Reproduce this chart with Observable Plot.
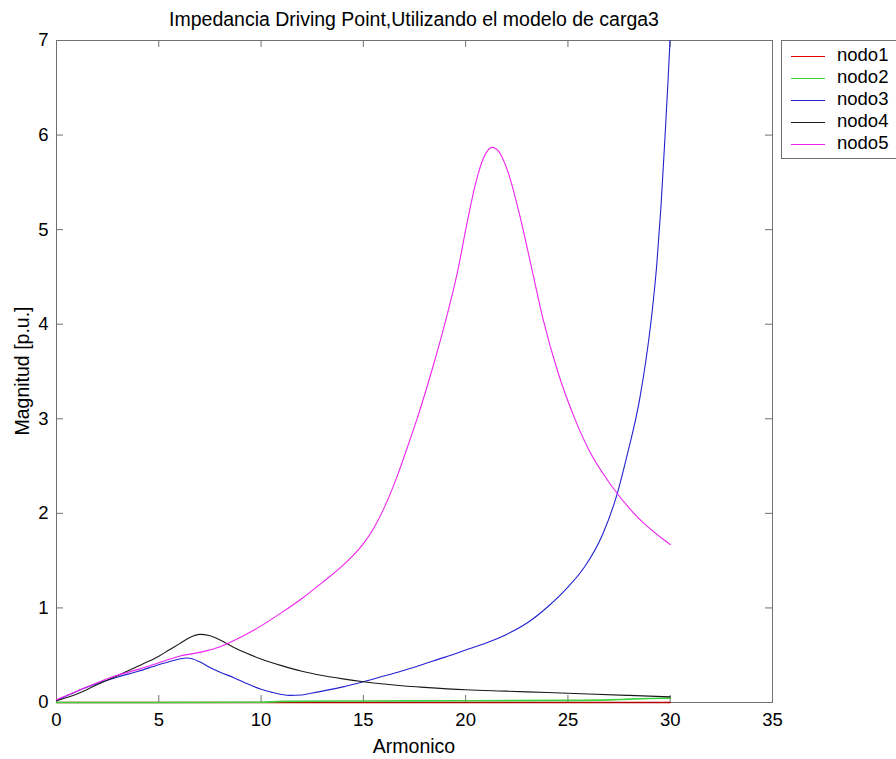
<!DOCTYPE html>
<html>
<head>
<meta charset="utf-8">
<script src="https://cdn.jsdelivr.net/npm/d3@7"></script>
<script src="https://cdn.jsdelivr.net/npm/@observablehq/plot@0.6"></script>
<style>
  body { margin: 0; background: #fff; }
  #wrap { position: relative; width: 896px; height: 759px; overflow: hidden; background: #fff;
          font-family: Arial, "Liberation Sans", sans-serif; color: #000; }
  #chart { position: absolute; left: 0; top: 0; }
  .lbl { position: absolute; font-size: 19.5px; line-height: 22px; white-space: nowrap; text-align: center; }
  #title { left: 56px; width: 716px; top: 8px; }
  #xlabel { left: 56px; width: 716px; top: 735px; }
  #ylabel { left: -128px; width: 300px; top: 360px; transform: rotate(-90deg); transform-origin: 150px 11px; }
  #legend { position: absolute; left: 781px; top: 40px; width: 140px; height: 114px;
            border: 1px solid #707070; background: #fff; padding-top: 3px; box-sizing: content-box; }
  .row { height: 22px; line-height: 22px; font-size: 18.5px; white-space: nowrap; }
  .sw { display: inline-block; width: 34px; height: 0; border-top: 1px solid; vertical-align: middle; margin-left: 9px; margin-right: 12px; }
</style>
</head>
<body>
<div id="wrap">
  <div id="chart"></div>
  <div id="title" class="lbl"></div>
  <div id="xlabel" class="lbl"></div>
  <div id="ylabel" class="lbl"></div>
  <div id="legend"></div>
</div>
<script>
// ---- texts ----
const titleText = "Impedancia Driving Point,Utilizando el modelo de carga3";
const xLabelText = "Armonico";
const yLabelText = "Magnitud [p.u.]";

// ---- ticks ----
const xTicks = [0, 5, 10, 15, 20, 25, 30, 35];
const yTicks = [0, 1, 2, 3, 4, 5, 6, 7];

// ---- series ----
const seriesNames = ["nodo1", "nodo2", "nodo3", "nodo4", "nodo5"];
const seriesColors = ["#b40000", "#3fd03f", "#2222d0", "#1a1a1a", "#ee22ee"];
const legendColors = ["#e00000", "#3fd03f", "#2222d0", "#1a1a1a", "#ee22ee"];

const nodo1X = [0, 10, 20, 30];
const nodo1Y = [0.0, 0.0, 0.0, 0.0];

const nodo2X = [0, 5, 10, 11, 15, 20, 25, 27, 28, 29, 30];
const nodo2Y = [0.0, 0.0, 0.002, 0.012, 0.016, 0.018, 0.022, 0.028, 0.036, 0.042, 0.046];

const nodo3X = [0, 1, 2, 3, 4, 5, 5.5, 6, 6.4, 7, 7.5, 8, 8.7, 9.3, 10, 10.5, 11, 11.4, 12, 12.5, 13, 14, 15, 16, 17, 18, 19, 20, 21, 22, 23, 24, 25, 25.8, 26.7, 27.4, 27.9, 28.5, 28.8, 29.1, 29.35, 29.55, 29.75, 29.9, 30];
const nodo3Y = [0.02, 0.12, 0.2, 0.27, 0.33, 0.4, 0.43, 0.46, 0.47, 0.43, 0.37, 0.32, 0.26, 0.2, 0.14, 0.11, 0.085, 0.075, 0.08, 0.1, 0.12, 0.165, 0.22, 0.28, 0.34, 0.41, 0.48, 0.555, 0.63, 0.72, 0.84, 1.01, 1.22, 1.43, 1.78, 2.2, 2.62, 3.2, 3.6, 4.1, 4.65, 5.25, 6.0, 6.6, 7.05];

const nodo4X = [0, 1, 2, 3, 3.5, 4, 4.5, 5, 5.5, 6, 6.5, 7, 7.5, 8, 8.7, 9.3, 10, 11, 12, 13, 14, 15, 16, 17, 18, 20, 22, 24, 26, 28, 30];
const nodo4Y = [0.02, 0.09, 0.19, 0.285, 0.335, 0.385, 0.435, 0.49, 0.555, 0.62, 0.685, 0.72, 0.705, 0.66, 0.58, 0.52, 0.46, 0.39, 0.33, 0.285, 0.25, 0.22, 0.195, 0.175, 0.16, 0.135, 0.12, 0.105, 0.09, 0.075, 0.06];

const nodo5X = [0, 1, 2, 3, 4, 5, 6, 7, 8, 9, 10, 11, 12, 13, 14, 14.5, 15, 15.5, 16, 16.7, 17.2, 17.7, 18.4, 19, 19.6, 20.05, 20.5, 20.9, 21.3, 21.7, 22.1, 22.7, 23.25, 23.8, 24.5, 25.3, 26, 27.1, 28.4, 30];
const nodo5Y = [0.03, 0.12, 0.21, 0.29, 0.35, 0.42, 0.49, 0.53, 0.59, 0.69, 0.81, 0.95, 1.1, 1.27, 1.45, 1.555, 1.68, 1.84, 2.05, 2.42, 2.73, 3.05, 3.55, 4.02, 4.55, 5.05, 5.5, 5.77, 5.87, 5.8, 5.59, 5.1, 4.57, 4.04, 3.5, 3.02, 2.68, 2.3, 1.96, 1.67];

const seriesX = [nodo1X, nodo2X, nodo3X, nodo4X, nodo5X];
const seriesY = [nodo1Y, nodo2Y, nodo3Y, nodo4Y, nodo5Y];
const seriesWidths = [1.4, 1.6, 1.1, 1.1, 1.1];
const seriesClip = [false, false, true, true, true];

// ---- layout ----
const W = 896, H = 759;
const mL = 56, mR = 124, mT = 40, mB = 57;
const plotW = W - mL - mR, plotH = H - mT - mB;
const axisColor = "#707070";

const rows = seriesNames.flatMap((name, k) => seriesX[k].map((x, i) => ({name, x, y: seriesY[k][i]})));

const lineMarks = seriesNames.map((name, k) =>
  Plot.line(rows.filter(d => d.name === name), {
    x: "x", y: "y", stroke: seriesColors[k], strokeWidth: seriesWidths[k], curve: "monotone-x", clip: seriesClip[k]
  })
);

const chart = Plot.plot({
  width: W, height: H,
  marginLeft: mL, marginRight: mR, marginTop: mT, marginBottom: mB,
  style: { fontFamily: 'Arial, "Liberation Sans", sans-serif', fontSize: "18px", background: "transparent", color: "#000", overflow: "visible" },
  x: { domain: [0, 35] },
  y: { domain: [0, 7] },
  marks: [
    Plot.frame({ stroke: axisColor }),
    Plot.tickY(yTicks, { insetRight: plotW - 7, stroke: axisColor }),
    Plot.tickY(yTicks, { insetLeft: plotW - 7, stroke: axisColor }),
    Plot.tickX(xTicks, { insetTop: plotH - 7, stroke: axisColor }),
    Plot.tickX(xTicks, { insetBottom: plotH - 7, stroke: axisColor }),
    Plot.axisY(yTicks, { tickSize: 0, tickPadding: 8, label: null, fontSize: 18.5, fill: "#000", tickFormat: d => String(d) }),
    Plot.axisX(xTicks, { tickSize: 0, tickPadding: 10, label: null, fontSize: 18.5, fill: "#000", tickFormat: d => String(d) }),
    ...lineMarks
  ]
});
document.getElementById("chart").appendChild(chart);

document.getElementById("title").textContent = titleText;
document.getElementById("xlabel").textContent = xLabelText;
document.getElementById("ylabel").textContent = yLabelText;

const legend = document.getElementById("legend");
seriesNames.forEach((name, k) => {
  const row = document.createElement("div");
  row.className = "row";
  const sw = document.createElement("span");
  sw.className = "sw";
  sw.style.borderTopColor = legendColors[k];
  row.appendChild(sw);
  row.appendChild(document.createTextNode(name));
  legend.appendChild(row);
});
</script>
</body>
</html>
